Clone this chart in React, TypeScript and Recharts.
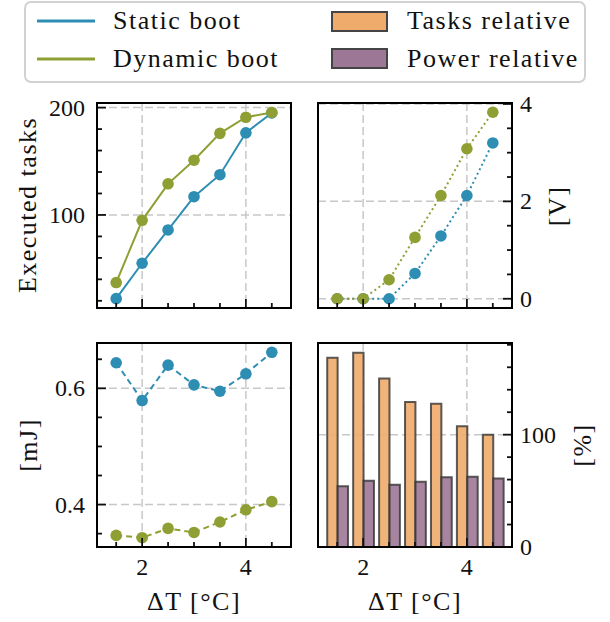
import React from 'react';
import { ComposedChart, Line, Bar, XAxis, YAxis, CartesianGrid } from 'recharts';

// x positions, delta T [°C]
const DT = [1.5, 2, 2.5, 3, 3.5, 4, 4.5];

// executed tasks
const TASKS_STATIC = [22, 55, 86, 117, 137.5, 176.5, 195];
const TASKS_DYNAMIC = [37, 95, 129, 151, 176, 191, 195.5];

// [V]
const VOLT_STATIC = [0, 0, 0, 0.52, 1.29, 2.12, 3.2];
const VOLT_DYNAMIC = [0, 0, 0.39, 1.26, 2.12, 3.08, 3.83];

// [mJ]
const ENERGY_STATIC = [0.644, 0.579, 0.64, 0.606, 0.595, 0.625, 0.662];
const ENERGY_DYNAMIC = [0.347, 0.343, 0.359, 0.352, 0.37, 0.391, 0.405];

// [%]
const TASKS_REL = [168.5, 173, 150, 129, 127.5, 107.5, 100];
const POWER_REL = [54, 59, 55.5, 58, 62, 62.5, 61];

const X_DOMAIN = [1.13, 4.87];
const X_MAJOR = [2, 4];
const X_MINOR = [1.5, 2.5, 3, 3.5, 4.5];

const TASKS_MAJOR = [100, 200];
const TASKS_MINOR = [20, 40, 60, 80, 120, 140, 160, 180];
const VOLT_MAJOR = [0, 2, 4];
const VOLT_MINOR = [0.5, 1, 1.5, 2.5, 3, 3.5];
const ENERGY_MAJOR = [0.4, 0.6];
const ENERGY_MINOR = [0.35, 0.45, 0.5, 0.55, 0.65];
const REL_MAJOR = [0, 100];
const REL_MINOR = [20, 40, 60, 80, 120, 140, 160, 180];

const BLUE = '#2e8db2';
const GREEN = '#8f9f33';
const ORANGE = '#eeab6c';
const PURPLE = '#9d7896';
const FONT = '"Liberation Serif", "Times New Roman", serif';

const W = 610;
const H = 622;

const data = DT.map((x, i) => ({
  x,
  tStatic: TASKS_STATIC[i],
  tDynamic: TASKS_DYNAMIC[i],
  vStatic: VOLT_STATIC[i],
  vDynamic: VOLT_DYNAMIC[i],
  eStatic: ENERGY_STATIC[i],
  eDynamic: ENERGY_DYNAMIC[i],
  tasksRel: TASKS_REL[i],
  powerRel: POWER_REL[i],
}));

type Box = { x: number; y: number; w: number; h: number };

const isIn = (v: number, list: number[]) => list.some((m) => Math.abs(m - v) < 1e-9);

// tick mark pointing into the plot, with a label on major ticks only
function makeTick(orient: 'left' | 'right' | 'bottom', edge: number, major: number[], labels: boolean) {
  return (p: any) => {
    const v = p.payload.value;
    const c = p.payload.coordinate;
    const big = isIn(v, major);
    const len = big ? 9 : 5;
    const txt = { fontFamily: FONT, fontSize: 24, fill: '#111' };
    if (orient === 'bottom') {
      return (
        <g>
          <line x1={c} x2={c} y1={edge} y2={edge - len} stroke="#111" strokeWidth={1.8} />
          {big && labels && <text x={c} y={edge + 28} textAnchor="middle" {...txt}>{String(v)}</text>}
        </g>
      );
    }
    const dir = orient === 'left' ? 1 : -1;
    return (
      <g>
        <line x1={edge} x2={edge + dir * len} y1={c} y2={c} stroke="#111" strokeWidth={1.8} />
        {big && labels && (
          <text x={orient === 'left' ? edge - 12 : edge + 8} y={c + 8}
            textAnchor={orient === 'left' ? 'end' : 'start'} {...txt}>{String(v)}</text>
        )}
      </g>
    );
  };
}

function Panel(props: {
  box: Box;
  side: 'left' | 'right';
  yDomain: number[];
  yMajor: number[];
  yMinor: number[];
  xLabels: boolean;
  children: React.ReactNode;
}) {
  const { box, side, yDomain, yMajor, yMinor, xLabels, children } = props;
  const margin = {
    top: box.y,
    left: side === 'left' ? box.x - 1 : box.x,
    right: side === 'right' ? W - box.x - box.w - 1 : W - box.x - box.w,
    bottom: H - box.y - box.h - 1,
  };
  const xTicks = [...X_MINOR, ...X_MAJOR].sort((a, b) => a - b);
  const yTicks = [...yMinor, ...yMajor].sort((a, b) => a - b);
  const yEdge = side === 'left' ? box.x : box.x + box.w;
  return (
    <div style={{ position: 'absolute', left: 0, top: 0 }}>
      <ComposedChart width={W} height={H} data={data} margin={margin} barGap={0}>
        <CartesianGrid stroke="#c8c8c8" strokeDasharray="8 4" strokeWidth={1.5}
          horizontalValues={yMajor} verticalValues={X_MAJOR} />
        <XAxis dataKey="x" type="number" domain={X_DOMAIN} allowDataOverflow ticks={xTicks} interval={0}
          height={1} tickLine={false} axisLine={false}
          tick={makeTick('bottom', box.y + box.h, X_MAJOR, xLabels)} />
        <YAxis orientation={side} type="number" domain={yDomain} allowDataOverflow ticks={yTicks} interval={0}
          width={1} tickLine={false} axisLine={false}
          tick={makeTick(side, yEdge, yMajor, true)} />
        {children}
      </ComposedChart>
    </div>
  );
}

function series(key: string, color: string, dash?: string) {
  return (
    <Line key={key} type="linear" dataKey={key} stroke={color} strokeWidth={2} strokeDasharray={dash}
      dot={{ r: 5.8, fill: color, stroke: 'none' }} activeDot={false} isAnimationActive={false} />
  );
}

const labelStyle = { fontFamily: FONT, fontSize: 26, fill: '#111', letterSpacing: 1.5 };

const BOXES: Box[] = [
  { x: 97, y: 103, w: 194, h: 205 },
  { x: 318, y: 103, w: 194, h: 205 },
  { x: 97, y: 343, w: 194, h: 204 },
  { x: 318, y: 343, w: 194, h: 204 },
];

export default function App() {
  return (
    <div style={{ position: 'absolute', left: 0, top: 0, width: W, height: H, background: '#fff' }}>
      <Panel box={BOXES[0]} side="left" yDomain={[13.3, 204.3]}
        yMajor={TASKS_MAJOR} yMinor={TASKS_MINOR} xLabels={false}>
        {series('tStatic', BLUE)}
        {series('tDynamic', GREEN)}
      </Panel>
      <Panel box={BOXES[1]} side="right" yDomain={[-0.19, 4.02]}
        yMajor={VOLT_MAJOR} yMinor={VOLT_MINOR} xLabels={false}>
        {series('vStatic', BLUE, '2 3')}
        {series('vDynamic', GREEN, '2 3')}
      </Panel>
      <Panel box={BOXES[2]} side="left" yDomain={[0.327, 0.678]}
        yMajor={ENERGY_MAJOR} yMinor={ENERGY_MINOR} xLabels>
        {series('eStatic', BLUE, '6 4')}
        {series('eDynamic', GREEN, '6 4')}
      </Panel>
      <Panel box={BOXES[3]} side="right" yDomain={[0, 181.6]}
        yMajor={REL_MAJOR} yMinor={REL_MINOR} xLabels>
        <Bar dataKey="tasksRel" fill={ORANGE} fillOpacity={0.9} stroke="#333" strokeOpacity={0.8} strokeWidth={2}
          barSize={10.4} isAnimationActive={false} />
        <Bar dataKey="powerRel" fill={PURPLE} fillOpacity={0.9} stroke="#333" strokeOpacity={0.8} strokeWidth={2}
          barSize={10.4} isAnimationActive={false} />
      </Panel>

      <svg width={W} height={H} style={{ position: 'absolute', left: 0, top: 0, pointerEvents: 'none' }}>
        {/* plot frames */}
        {BOXES.map((b, i) => (
          <rect key={i} x={b.x} y={b.y} width={b.w} height={b.h} fill="none" stroke="#000" strokeWidth={2} />
        ))}

        {/* legend */}
        <rect x={25} y={2} width={560} height={80} rx={6} fill="#fff" stroke="#d2d2d2" strokeWidth={2} />
        <line x1={37} x2={95} y1={21} y2={21} stroke={BLUE} strokeWidth={3} />
        <line x1={37} x2={95} y1={59} y2={59} stroke={GREEN} strokeWidth={3} />
        <text x={113} y={29} {...labelStyle}>Static boot</text>
        <text x={113} y={67} {...labelStyle}>Dynamic boot</text>
        <rect x={332} y={12} width={55} height={19} fill={ORANGE} stroke="#444" strokeWidth={2} />
        <rect x={332} y={49} width={55} height={19} fill={PURPLE} stroke="#444" strokeWidth={2} />
        <text x={407} y={29} {...labelStyle}>Tasks relative</text>
        <text x={407} y={67} {...labelStyle}>Power relative</text>

        {/* axis labels */}
        <text x={36} y={205} textAnchor="middle" transform="rotate(-90 36 205)" {...labelStyle}>Executed tasks</text>
        <text x={37} y={445} textAnchor="middle" transform="rotate(-90 37 445)" {...labelStyle}>[mJ]</text>
        <text x={566} y={206} textAnchor="middle" transform="rotate(-90 566 206)" {...labelStyle}>[V]</text>
        <text x={591} y={445} textAnchor="middle" transform="rotate(-90 591 445)" {...labelStyle}>[%]</text>
        <text x={194} y={610} textAnchor="middle" {...labelStyle}>ΔT [°C]</text>
        <text x={415} y={610} textAnchor="middle" {...labelStyle}>ΔT [°C]</text>
      </svg>
    </div>
  );
}
